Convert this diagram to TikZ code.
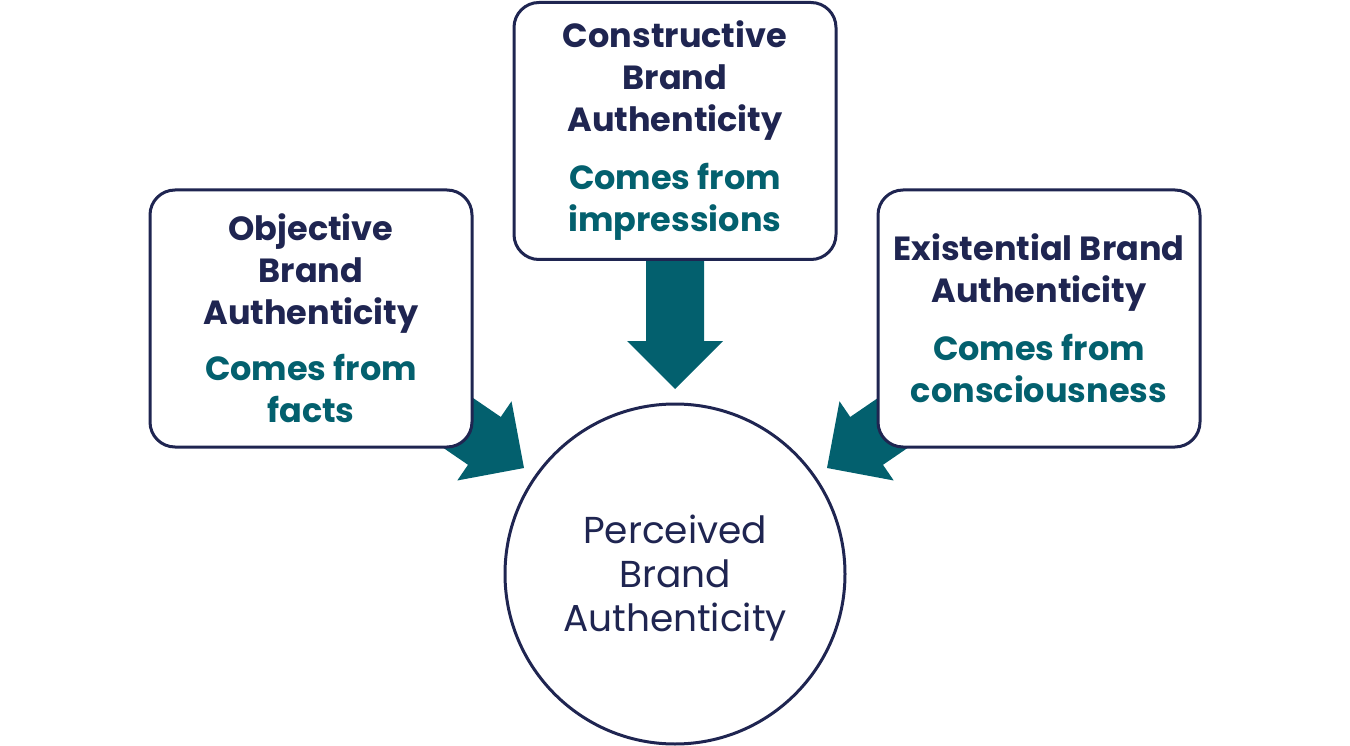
\documentclass[tikz,border=0pt]{standalone}
\usepackage{fontspec}
\setmainfont{Poppins}
\definecolor{navy}{HTML}{1F2551}
\definecolor{tealc}{HTML}{03606E}
\tikzset{
  box/.style={draw=navy, line width=3pt, fill=white, rounded corners=25pt,
    minimum width=322pt, minimum height=257pt, align=center, inner sep=0pt,
    font=\bfseries\fontsize{33.5}{42}\selectfont},
  blockarrow/.style={fill=tealc, draw=none},
}
\newcommand{\hd}[1]{\textcolor{navy}{#1}}
\newcommand{\tl}[1]{\textcolor{tealc}{#1}}
\newcommand{\blockarr}[1]{%
  \fill[blockarrow] (0,0) -- (48,-48) -- (29,-48) -- (29,-48-#1) -- (-29,-48-#1) -- (-29,-48) -- (-48,-48) -- cycle;}
\begin{document}
\begin{tikzpicture}[x=1pt,y=-1pt]
\useasboundingbox (0,0) rectangle (1350,746);
% arrows (drawn before boxes so boxes cover shafts)
\coordinate (tipL) at (524,468);
\coordinate (tipC) at (675,389);
\coordinate (tipR) at (827,468);
\begin{scope}[shift={(tipL)}, rotate=55.6]\blockarr{130}\end{scope}
\begin{scope}[shift={(tipR)}, rotate=-55.6]\blockarr{130}\end{scope}
\begin{scope}[shift={(tipC)}]\blockarr{100}\end{scope}
% boxes
\node[box] (obj) at (311,318.5) {\hd{Objective}\\\hd{Brand}\\\hd{Authenticity}\\[14pt]\tl{Comes from}\\\tl{facts}};
\node[box] (con) at (675,131) {\hd{Constructive}\\\hd{Brand}\\\hd{Authenticity}\\[16pt]\tl{Comes from}\\\tl{impressions}};
\node[box] (exi) at (1039,318.5) {\hd{Existential Brand}\\\hd{Authenticity}\\[16pt]\tl{Comes from}\\\tl{consciousness}};
% circle
\node[circle, draw=navy, line width=3pt, fill=white, minimum size=340pt] (pba) at (675,574) {};
\node[align=center, text=navy, font=\fontsize{37.5}{44}\selectfont] (pbatext) at ([yshift=-4pt]pba.center) {Perceived\\Brand\\Authenticity};
\end{tikzpicture}
\end{document}
